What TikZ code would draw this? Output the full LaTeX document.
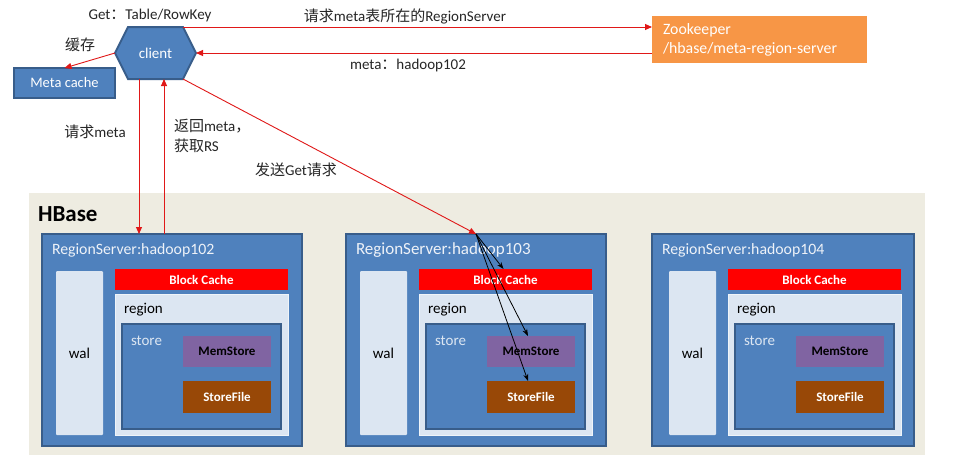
\documentclass[tikz,border=0pt]{standalone}
\usepackage{fontspec}
\setmainfont{Carlito}
\newfontfamily\cjk{Noto Sans CJK SC}
\usetikzlibrary{arrows.meta}
\definecolor{bluefill}{HTML}{4F81BD}
\definecolor{blueedge}{HTML}{385D8A}
\definecolor{lightfill}{HTML}{DCE6F2}
\definecolor{beige}{HTML}{EEECE1}
\definecolor{bcred}{HTML}{FF0000}
\definecolor{memfill}{HTML}{8064A2}
\definecolor{sffill}{HTML}{984807}
\definecolor{zkfill}{HTML}{F79646}
\definecolor{arrowred}{HTML}{E01818}
\definecolor{txt}{HTML}{262626}
\definecolor{rstext}{HTML}{EEF2F8}
\newcommand{\fs}[1]{\fontsize{#1}{#1}\selectfont}
\newcommand{\fsl}[2]{\fontsize{#1}{#2}\selectfont}
\begin{document}
\begin{tikzpicture}[x=1pt,y=-1pt,
  every node/.style={inner sep=0pt, outer sep=0pt},
  redarrow/.style={draw=arrowred, line width=0.9pt, -{Triangle[length=7pt,width=6pt]}},
  blackarrow/.style={draw=black, line width=0.8pt, -{Stealth[length=7pt,width=5pt]}},
  rsbox/.style={fill=bluefill, draw=blueedge, line width=2pt},
  walbox/.style={fill=lightfill, rounded corners=1pt, font=\fs{15}, text=black},
  regionbox/.style={fill=lightfill, draw=white!55!lightfill, line width=1pt},
  storebox/.style={fill=bluefill, draw=blueedge, line width=2pt},
  bcbox/.style={fill=bcred, font=\bfseries\fs{13}, text=white},
  membox/.style={fill=memfill, font=\bfseries\fs{13}, text=black},
  sfbox/.style={fill=sffill, font=\bfseries\fs{13}, text=white},
  lbl/.style={text=txt, font=\fs{15}},
  wlbl/.style={anchor=west, font=\fs{15}}
]
\useasboundingbox (0,0) rectangle (955,461);
\fill[white] (0,0) rectangle (955,461);

% HBase area
\fill[beige] (29,193) rectangle (925,455);
\node[anchor=west, font=\bfseries\fs{23}, text=black] (hbase) at (38,214) {HBase};

% Region servers
\foreach \s/\n/\h/\f/\i/\w in {0/1/hadoop102/15.8/0/260, 304/2/hadoop103/17/0/260, 610/3/hadoop104/15.8/3/262}{
  \begin{scope}[xshift=\s]
    \node[rsbox, minimum width=\w, minimum height=212, anchor=west] (rs\n) at (42,340) {};
    \node[anchor=west, text=rstext, font=\fs{\f}] (t\n) at (52,250) {RegionServer:\h};
  \end{scope}
  \begin{scope}[xshift=\s+\i]
    \node[walbox, minimum width=47, minimum height=164] (wal\n) at (79.5,353) {wal};
    \node[regionbox, minimum width=173, minimum height=141] (reg\n) at (201.5,364.5) {};
    \node[wlbl, text=black] (rl\n) at (124,310) {region};
    \node[storebox, minimum width=159, minimum height=105] (st\n) at (201.5,376.5) {};
    \node[wlbl, text=lightfill] (sl\n) at (131,341) {store};
    \node[bcbox, minimum width=173, minimum height=21] (bc\n) at (201.5,279.5) {Block Cache};
    \node[membox, minimum width=88, minimum height=31] (mem\n) at (227,351.5) {MemStore};
    \node[sfbox, minimum width=88, minimum height=32] (sf\n) at (227,397) {StoreFile};
  \end{scope}
}

% client hexagon
\draw[fill=bluefill, draw=blueedge, line width=2pt]
  (115,53) -- (128,27) -- (183,27) -- (196,53) -- (183,79) -- (128,79) -- cycle;
\node[minimum width=81, minimum height=52, text=white, font=\fs{15}] (client) at (155.5,53) {client};

% Meta cache
\node[fill=bluefill, draw=blueedge, line width=2pt, minimum width=101, minimum height=30,
      text=white, font=\fs{14.5}] (mc) at (64.5,83) {Meta cache};

% Zookeeper
\node[fill=zkfill, minimum height=47, text width=193, inner xsep=11, align=left,
      text=white, font=\fsl{15.8}{19}] (zk) at (759.5,39.5)
      {Zookeeper\\/hbase/meta-region-server};

% labels
\node[lbl] (lget) at (150,15) {Get{\cjk ：}Table/RowKey};
\node[lbl] (lcache) at (80,45) {\cjk 缓存};
\node[lbl] (lreq) at (405,16) {{\cjk 请求}meta{\cjk 表所在的}RegionServer};
\node[lbl] (lret) at (408,65) {meta{\cjk ：}hadoop102};
\node[lbl] (lreqm) at (95,132) {{\cjk 请求}meta};
\node[lbl, anchor=west, align=left, font=\fsl{15}{20}] (lback) at (174,136)
      {{\cjk 返回}meta{\cjk ，}\\{\cjk 获取}RS};
\node[lbl] (lsend) at (296,170) {{\cjk 发送}Get{\cjk 请求}};

% red arrows
\draw[redarrow] (client.west) -- (mc.north);
\draw[redarrow] ([xshift=-13pt]client.north east) -- (zk.west |- client.north);
\draw[redarrow] (zk.west |- client.east) -- (client.east);
\draw[redarrow] ([xshift=-16.5pt]client.south) -- ([xshift=-16.5pt]client.south |- rs1.north);
\draw[redarrow] ([xshift=8.5pt]client.south |- rs1.north) -- ([xshift=8.5pt]client.south);
\draw[redarrow] ([xshift=-13pt]client.south east) -- (rs2.north);

% black arrows inside RS2
\draw[blackarrow] (rs2.north) -- ([xshift=-2pt]bc2.north);
\draw[blackarrow] (rs2.north) -- ([xshift=-3pt]mem2.north);
\draw[blackarrow] (rs2.north) -- ([xshift=-3pt]sf2.north);
\end{tikzpicture}
\end{document}
